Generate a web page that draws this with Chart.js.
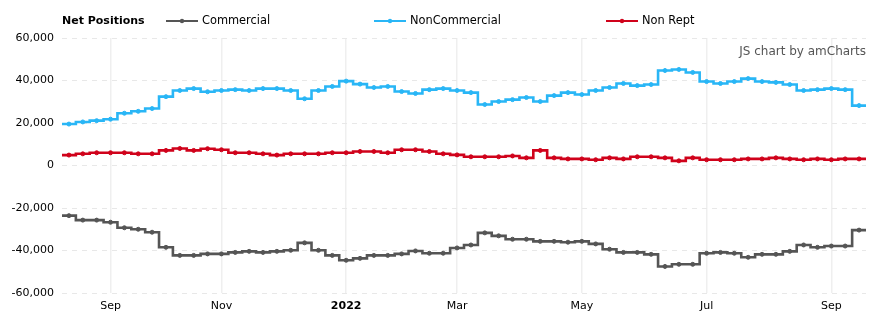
<!DOCTYPE html>
<html>
<head>
<meta charset="utf-8">
<script src="https://cdn.jsdelivr.net/npm/chart.js@4/dist/chart.umd.min.js"></script>
<style>
  body { margin: 0; background: #fff; }
  #caja { width: 881px; height: 326px; }
</style>
</head>
<body>
<div id="caja"><canvas id="myChart"></canvas></div>
<script>
// fechas de los reportes (semanal)
var semanas = ['2021-08-10', '2021-08-17', '2021-08-24', '2021-08-31', '2021-09-07', '2021-09-14', '2021-09-21', '2021-09-28',
    '2021-10-05', '2021-10-12', '2021-10-19', '2021-10-26', '2021-11-02', '2021-11-09', '2021-11-16', '2021-11-23',
    '2021-11-30', '2021-12-07', '2021-12-14', '2021-12-21', '2021-12-28', '2022-01-04', '2022-01-11', '2022-01-18',
    '2022-01-25', '2022-02-01', '2022-02-08', '2022-02-15', '2022-02-22', '2022-03-01', '2022-03-08', '2022-03-15',
    '2022-03-22', '2022-03-29', '2022-04-05', '2022-04-12', '2022-04-19', '2022-04-26', '2022-05-03', '2022-05-10',
    '2022-05-17', '2022-05-24', '2022-05-31', '2022-06-07', '2022-06-14', '2022-06-21', '2022-06-28', '2022-07-05',
    '2022-07-12', '2022-07-19', '2022-07-26', '2022-08-02', '2022-08-09', '2022-08-16', '2022-08-23', '2022-08-30',
    '2022-09-06', '2022-09-13'];

var commercial = [-23600, -25700, -25700, -26700, -29300, -30000, -31400, -38500, -42300, -42300,
    -41600, -41600, -40900, -40400, -40900, -40400, -39900, -36400, -39900, -42300,
    -44600, -43700, -42300, -42300, -41600, -40200, -41300, -41300, -38800, -37400,
    -31700, -33100, -34700, -34700, -35700, -35700, -36100, -35700, -36900, -39400,
    -40900, -40900, -41800, -47500, -46500, -46500, -41300, -40900, -41300, -43200,
    -41800, -41800, -40400, -37400, -38500, -37900, -37900, -30400];

var nonCommercial = [19500, 20500, 21100, 21800, 24600, 25500, 26800, 32400, 35300, 36200,
    34700, 35300, 35700, 35300, 36200, 36200, 35300, 31400, 35300, 37200,
    39700, 38300, 36700, 37200, 34800, 33900, 35700, 36200, 35300, 34300,
    28700, 30100, 31000, 32000, 30100, 32900, 34300, 33400, 35300, 36700,
    38600, 37600, 38100, 44700, 45200, 43800, 39500, 38600, 39500, 40900,
    39500, 39100, 38100, 35300, 35700, 36200, 35700, 28200];

var nonRept = [4900, 5500, 6000, 6000, 6000, 5500, 5500, 7100, 8000, 7100,
    7900, 7400, 6000, 6000, 5500, 4900, 5500, 5500, 5500, 6000,
    6000, 6600, 6600, 6000, 7400, 7400, 6600, 5500, 5000, 4100,
    4100, 4100, 4500, 3600, 7100, 3600, 3100, 3100, 2700, 3600,
    3100, 4100, 4100, 3600, 2200, 3600, 2700, 2700, 2700, 3100,
    3100, 3600, 3100, 2700, 3100, 2700, 3100, 3100];

var series = ['Commercial', 'NonCommercial', 'Non Rept'];
var tickSemanas = ['2021-08-31', '2021-10-26', '2021-12-28', '2022-02-22', '2022-04-26', '2022-06-28', '2022-08-30'];
var tickLabels = ['Sep', 'Nov', '2022', 'Mar', 'May', 'Jul', 'Sep'];
var yTicks = [-60000, -40000, -20000, 0, 20000, 40000, 60000];

var colores = ['#555555', '#29b6f6', '#d0021b'];

function puntos(arr) {
    return arr.map((v, i) => ({ x: i, y: v }));
}

Chart.defaults.font.family = "'DejaVu Sans', Verdana, sans-serif";
Chart.defaults.font.size = 11;
Chart.defaults.color = '#000';

// amCharts pinta medio escalon antes del primer punto y despues del ultimo
const puntas = {
    id: 'puntas',
    beforeDatasetsDraw(chart) {
        const ctx = chart.ctx;
        const xs = chart.scales.x;
        chart.data.datasets.forEach((ds, i) => {
            const els = chart.getDatasetMeta(i).data;
            const a = els[0], b = els[els.length - 1];
            ctx.save();
            ctx.strokeStyle = ds.borderColor;
            ctx.lineWidth = ds.borderWidth;
            ctx.beginPath();
            ctx.moveTo(xs.getPixelForValue(-0.5), a.y);
            ctx.lineTo(a.x, a.y);
            ctx.moveTo(b.x, b.y);
            ctx.lineTo(xs.getPixelForValue(semanas.length - 0.5), b.y);
            ctx.stroke();
            ctx.restore();
        });
    }
};

// leyenda a mano + marca de agua
const leyenda = {
    id: 'leyenda',
    afterDraw(chart) {
        const ctx = chart.ctx;
        const fam = Chart.defaults.font.family;
        ctx.save();
        ctx.textBaseline = 'middle';
        ctx.fillStyle = '#000';
        ctx.font = 'bold 11px ' + fam;
        ctx.fillText('Net Positions', 62, 21);
        const xs = [166, 374, 606];
        chart.data.datasets.forEach((ds, i) => {
            const x0 = xs[i];
            ctx.strokeStyle = ds.borderColor;
            ctx.lineWidth = 2;
            ctx.beginPath();
            ctx.moveTo(x0, 21);
            ctx.lineTo(x0 + 32, 21);
            ctx.stroke();
            ctx.fillStyle = ds.borderColor;
            ctx.beginPath();
            ctx.arc(x0 + 16, 21, 2.2, 0, Math.PI * 2);
            ctx.fill();
            ctx.fillStyle = '#000';
            ctx.font = '11.4px ' + fam;
            ctx.fillText(ds.label, x0 + 36, 21);
        });
        ctx.fillStyle = '#555';
        ctx.textAlign = 'right';
        ctx.font = '12px ' + fam;
        ctx.fillText('JS chart by amCharts', 866, 52);
        ctx.restore();
    }
};

const datos = [commercial, nonCommercial, nonRept];

const config = {
    type: 'line',
    data: {
        datasets: datos.map((arr, i) => ({
            label: series[i],
            data: puntos(arr),
            borderColor: colores[i],
            backgroundColor: colores[i],
            pointBackgroundColor: colores[i],
            pointBorderColor: colores[i],
            borderWidth: 2.6,
            pointRadius: 2,
            pointBorderWidth: 1,
            pointHoverRadius: 2,
            stepped: 'middle',
            tension: 0,
            fill: false
        }))
    },
    options: {
        responsive: true,
        maintainAspectRatio: false,
        animation: false,
        layout: { padding: { top: 38, right: 15, left: 0, bottom: 0 } },
        plugins: {
            legend: { display: false },
            tooltip: { enabled: false }
        },
        scales: {
            x: {
                type: 'linear',
                min: -0.5,
                max: semanas.length - 0.5,
                afterBuildTicks: function (s) {
                    s.ticks = tickSemanas.map(d => ({ value: semanas.indexOf(d) }));
                },
                afterFit: function (s) { s.height = 33; },
                ticks: {
                    autoSkip: false,
                    maxRotation: 0,
                    padding: 7,
                    callback: function (v, i) { return tickLabels[i]; },
                    font: function (c) {
                        return { size: 11, weight: tickLabels[c.index] == '2022' ? 'bold' : 'normal' };
                    }
                },
                grid: { color: '#efefef', lineWidth: 1.5, drawTicks: false },
                border: { display: false }
            },
            y: {
                min: -60000,
                max: 60000,
                afterBuildTicks: function (s) {
                    s.ticks = yTicks.map(v => ({ value: v }));
                },
                afterFit: function (s) { s.width = 62; },
                ticks: {
                    padding: 8,
                    callback: function (v) { return v.toLocaleString('en-US'); }
                },
                grid: { color: '#e8e8e8', lineWidth: 1, drawTicks: false },
                border: { display: false, dash: [5, 5] }
            }
        }
    },
    plugins: [puntas, leyenda]
};

const myChart = new Chart(document.getElementById('myChart'), config);
</script>
</body>
</html>
